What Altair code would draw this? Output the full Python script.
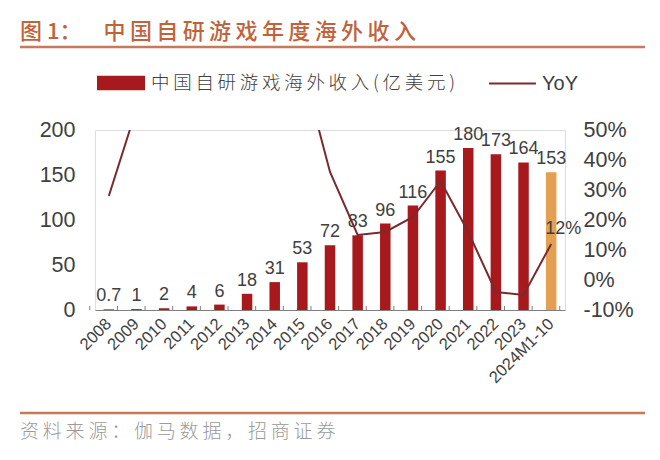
import altair as alt
import pandas as pd

years = ["2008", "2009", "2010", "2011", "2012", "2013", "2014", "2015", "2016",
         "2017", "2018", "2019", "2020", "2021", "2022", "2023", "2024M1-10"]
revenue = [0.7, 1, 2, 4, 6, 18, 31, 53, 72, 83, 96, 116, 155, 180, 173, 164, 153]
rev_labels = ["0.7", "1", "2", "4", "6", "18", "31", "53", "72", "83", "96", "116",
              "155", "180", "173", "164", "153"]
yoy_pct = [28, 57, 100, 100, 60, 200, 72, 71, 36, 15, 16, 21, 33, 16, -4, -5, 12]

BAR_NAME_RAW = "中国自研游戏海外收入(亿美元)"
TITLE_HEAD = "图 1：\u2003"
TITLE_BODY = "中国自研游戏年度海外收入"
SOURCE = "资料来源：伽马数据，招商证券"

RED = "#A8191D"
ORANGE = "#E4A052"
LINE = "#7A2A2E"
TITLE_C = "#C0633C"
RULE_C = "#C77A58"
TXT = "#404040"
FONT = "Liberation Sans, Noto Sans CJK SC"


def spaced(s, sp="\u2009"):
    return sp.join(list(s))


BAR_NAME = spaced(BAR_NAME_RAW)
kinds = [BAR_NAME] * 16 + ["partial"]

df = pd.DataFrame({
    "year": years,
    "value": revenue,
    "label": rev_labels,
    "kind": kinds,
    "yoy": [v / 100 for v in yoy_pct],
})
df["yoy_label"] = [f"{v}%" for v in yoy_pct]

W, H = 470, 180

xenc = alt.X("year:N", sort=years,
             scale=alt.Scale(paddingInner=0.62, paddingOuter=0.31),
             axis=alt.Axis(title=None, labelAngle=-45, labelFontSize=16.5,
                           labelColor=TXT, labelFont=FONT, labelAlign="right",
                           labelBaseline="middle", labelPadding=11,
                           domainColor="#7F7F7F", domainWidth=1,
                           ticks=False, labelOverlap=False))

yleft = alt.Y("value:Q", scale=alt.Scale(domain=[0, 200], nice=False),
              axis=alt.Axis(title=None, values=[0, 50, 100, 150, 200], grid=False,
                            domain=False, ticks=False, labelFontSize=21.5,
                            labelColor=TXT, labelFont=FONT, labelPadding=20,
                            orient="left"))

yright = alt.Y("yoy:Q", scale=alt.Scale(domain=[-0.1, 0.5], nice=False),
               axis=alt.Axis(title=None, orient="right",
                             labelExpr="replace(format(datum.value, '.0%'), '\u2212', '-')",
                             values=[-0.1, 0, 0.1, 0.2, 0.3, 0.4, 0.5], grid=False,
                             domain=False, ticks=False, labelFontSize=21.5,
                             labelColor=TXT, labelFont=FONT, labelPadding=18))

bars = alt.Chart(df).mark_bar().encode(
    x=xenc,
    y=yleft,
    color=alt.Color("kind:N",
                    scale=alt.Scale(domain=[BAR_NAME, "partial"], range=[RED, ORANGE]),
                    legend=alt.Legend(title=None, values=[BAR_NAME], orient="none",
                                      legendX=2, legendY=-71, padding=0,
                                      symbolType="M-1,-0.3H1V0.3H-1Z",
                                      symbolSize=2304, symbolStrokeWidth=0,
                                      labelFontSize=18.5, labelColor=TXT,
                                      labelFont="Noto Sans CJK SC",
                                      labelFontWeight=300, labelLimit=400,
                                      labelOffset=6)),
)

# small upward ticks at band boundaries
ticks = alt.Chart(df).mark_rule(color="#7F7F7F", strokeWidth=1).encode(
    x=xenc,
    xOffset=alt.value(-13.8),
    y=alt.value(H),
    y2=alt.value(H - 4),
)
end_tick = alt.Chart(df).transform_filter(
    alt.datum.year == "2024M1-10"
).mark_rule(color="#7F7F7F", strokeWidth=1).encode(
    x=xenc,
    xOffset=alt.value(13.8),
    y=alt.value(H),
    y2=alt.value(H - 4),
)

bar_text = alt.Chart(df).mark_text(baseline="bottom", dy=-4, fontSize=18,
                                   color=TXT, font=FONT).encode(
    x=xenc,
    y=yleft,
    text="label:N",
)

line = alt.Chart(df).mark_line(clip=True, strokeWidth=2).encode(
    x=xenc,
    y=yright,
    stroke=alt.Stroke("s:N", scale=alt.Scale(domain=["YoY"], range=[LINE]),
                      legend=alt.Legend(title=None, orient="none", legendX=393,
                                        legendY=-71, padding=0, symbolType="stroke",
                                        symbolSize=2200, symbolStrokeWidth=2,
                                        labelFontSize=20, labelColor=TXT,
                                        labelFont=FONT, labelOffset=5)),
).transform_calculate(s="'YoY'")

yoy_text = alt.Chart(df).transform_filter(
    alt.datum.year == "2024M1-10"
).mark_text(baseline="bottom", dy=-6, dx=12, fontSize=18, color=TXT,
            font=FONT).encode(
    x=xenc,
    y=yright,
    text="yoy_label:N",
)

one = pd.DataFrame({"t": [TITLE_HEAD + spaced(TITLE_BODY)], "s": [spaced(SOURCE)]})

title = alt.Chart(one).mark_text(align="left", baseline="middle", fontSize=22,
                                 fontWeight=500, color=TITLE_C,
                                 font="Noto Sans CJK SC").encode(
    x=alt.value(-75), y=alt.value(-98), text="t:N")

source = alt.Chart(one).mark_text(align="left", baseline="middle", fontSize=19,
                                  fontWeight=300, color="#9A9A9A",
                                  font="Noto Sans CJK SC").encode(
    x=alt.value(-75), y=alt.value(302), text="s:N")

rule_top = alt.Chart(one).mark_rule(color=RULE_C, strokeWidth=2.5).encode(
    x=alt.value(-75), x2=alt.value(565), y=alt.value(-83))
rule_bot = alt.Chart(one).mark_rule(color=RULE_C, strokeWidth=2.5).encode(
    x=alt.value(-75), x2=alt.value(565), y=alt.value(283))

chart = alt.layer(
    alt.layer(bars, ticks, end_tick, bar_text),
    alt.layer(line, yoy_text),
    title, source, rule_top, rule_bot,
).resolve_scale(y="independent").properties(
    width=W, height=H,
    autosize=alt.AutoSizeParams(type="none"),
    padding={"left": 87, "top": 122, "right": 80, "bottom": 140},
).configure_view(stroke=None).configure(background="white")

chart.save("out.html", embed_options={"renderer": "svg", "actions": False})
